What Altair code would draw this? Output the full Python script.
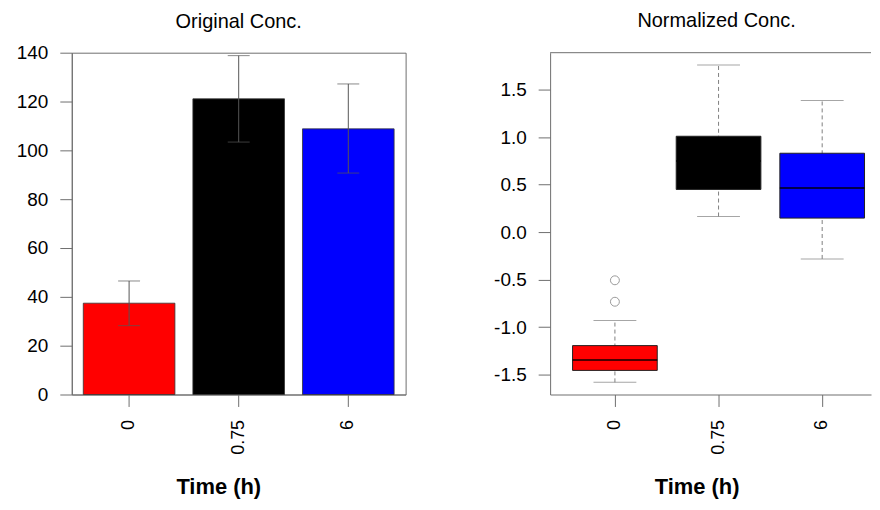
import altair as alt
import pandas as pd

# ---- data ----
time_labels = ["0", "0.75", "6"]
bar_colors = ["#FF0000", "#000000", "#0000FF"]

mean_conc = [37.4, 121.1, 108.8]
err_low = [28.2, 103.4, 90.7]
err_high = [46.5, 138.8, 127.2]
left_ticks = [0, 20, 40, 60, 80, 100, 120, 140]
left_domain = [0, 140]

box_q1 = [-1.456, 0.45, 0.148]
box_median = [-1.347, 0.75, 0.465]
box_q3 = [-1.195, 1.01, 0.831]
whisk_low = [-1.582, 0.165, -0.282]
whisk_high = [-0.93, 1.761, 1.386]
outlier_time = ["0", "0"]
outlier_value = [-0.507, -0.733]
right_ticks = [-1.5, -1.0, -0.5, 0.0, 0.5, 1.0, 1.5]
right_domain = [-1.71, 1.89]

FONT = "Liberation Sans"
GRAY = "#6e6e6e"

bars_df = pd.DataFrame({"time": time_labels, "mean": mean_conc,
                        "lo": err_low, "hi": err_high})
box_df = pd.DataFrame({"time": time_labels, "q1": box_q1, "med": box_median,
                       "q3": box_q3, "wlo": whisk_low, "whi": whisk_high})
out_df = pd.DataFrame({"time": outlier_time, "value": outlier_value})

color = alt.Color("time:N", scale=alt.Scale(domain=time_labels, range=bar_colors), legend=None)

x_axis = alt.Axis(labelAngle=270, labelPadding=13, labelFontSize=18,
                  title="Time (h)", titleX=147, titlePadding=22)

def panel_title(text, offset, dx=0):
    return alt.Title(text, fontSize=20, fontWeight="normal", font=FONT,
                     baseline="bottom", offset=offset, color="black", dx=dx)

# ---------- left panel ----------
xl = alt.X("time:N", sort=time_labels,
           scale=alt.Scale(paddingInner=0.164, paddingOuter=0.105), axis=x_axis)
yl_scale = alt.Scale(domain=left_domain, nice=False)

lb = alt.Chart(bars_df)
left_bars = lb.mark_bar(stroke="#333333", strokeWidth=0.8).encode(
    x=xl,
    y=alt.Y("mean:Q", scale=yl_scale, axis=alt.Axis(values=left_ticks, title=None)),
    color=color,
)
left_err = lb.mark_rule(color="#555555", strokeWidth=1).encode(
    x=alt.X("time:N", sort=time_labels), y="lo:Q", y2="hi:Q")
left_cap_hi = lb.mark_tick(color="#555555", size=22, thickness=1).encode(
    x=alt.X("time:N", sort=time_labels), y="hi:Q")
left_cap_lo = lb.mark_tick(color="#555555", size=22, thickness=1).encode(
    x=alt.X("time:N", sort=time_labels), y="lo:Q")

left = alt.layer(left_bars, left_err, left_cap_hi, left_cap_lo).properties(
    width=335, height=343,
    title=panel_title("Original Conc.", offset=-8),
)

# ---------- right panel ----------
xr_scale = alt.Scale(paddingInner=0.183, paddingOuter=0.1396, align=0.776)
xr = alt.X("time:N", sort=time_labels, scale=xr_scale, axis=x_axis)
yr_scale = alt.Scale(domain=right_domain, nice=False, zero=False)

rb = alt.Chart(box_df)
whiskers = rb.mark_rule(color="#808080", strokeDash=[4, 3], strokeWidth=1).encode(
    x=xr,
    y=alt.Y("wlo:Q", scale=yr_scale,
            axis=alt.Axis(values=right_ticks, title=None,
                          labelExpr="replace(format(datum.value, '.1f'), '\u2212', '-')")),
    y2="whi:Q",
)
xs = alt.X("time:N", sort=time_labels)
caps_hi = rb.mark_tick(color="#808080", size=43, thickness=1).encode(x=xs, y="whi:Q")
caps_lo = rb.mark_tick(color="#808080", size=43, thickness=1).encode(x=xs, y="wlo:Q")
boxes = rb.mark_bar(stroke="#222222", strokeWidth=1).encode(
    x=xs, y="q1:Q", y2="q3:Q", color=color)
medians = rb.mark_tick(color="#000000", size=85, thickness=2).encode(x=xs, y="med:Q")
outliers = alt.Chart(out_df).mark_point(shape="circle", filled=False, color="#707070",
                                        size=80, strokeWidth=1).encode(x=xs, y="value:Q")
# top frame line at the upper end of the y domain
top_line = alt.Chart(pd.DataFrame({"top": [right_domain[1]]})).mark_rule(
    color=GRAY, strokeWidth=1).encode(y="top:Q")

right = alt.layer(whiskers, caps_hi, caps_lo, boxes, medians, outliers, top_line).properties(
    width=322, height=343,
    view=alt.ViewBackground(stroke="transparent"),
    title=panel_title("Normalized Conc.", offset=1, dx=6),
)

chart = alt.hconcat(left, right, spacing=86).properties(
    padding={"left": 7, "top": 2, "right": 0, "bottom": 0}
).configure_view(stroke=GRAY, strokeWidth=1).configure_axis(
    labelFont=FONT, labelFontSize=19, labelColor="black",
    titleFont=FONT, titleFontSize=22, titleFontWeight="bold", titleColor="black",
    tickColor=GRAY, domainColor=GRAY, tickSize=12, labelPadding=12, grid=False,
)

chart.save("out.html", embed_options={"renderer": "svg", "actions": False})
